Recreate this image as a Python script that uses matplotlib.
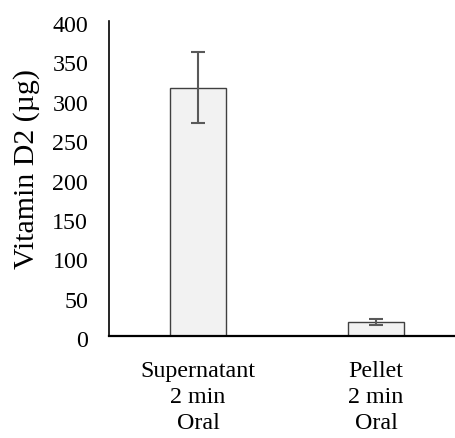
import matplotlib
matplotlib.use('Agg')

import matplotlib.pyplot as plt
import matplotlib.transforms as mtransforms


categories = ["Supernatant\n2 min\nOral", "Pellet\n2 min\nOral"]
values = [315.5, 17.8]
errors = [45.0, 3.5]
yticks = [0, 50, 100, 150, 200, 250, 300, 350, 400]

plt.rcParams['font.family'] = ['Liberation Serif', 'DejaVu Serif']

fig = plt.figure(figsize=(4.56, 4.38), dpi=100)
# axis runs a bit past the right edge, like the original
ax = fig.add_axes([109 / 456, 1 - 336 / 438, 356 / 456, 315 / 438])

x = list(range(len(categories)))
ax.bar(x, values, width=0.315, color='#f2f2f2', edgecolor='#404040', linewidth=1.0, zorder=2)
ax.errorbar(x, values, yerr=errors, fmt='none', ecolor='#595959',
            elinewidth=1.5, capsize=5, capthick=1.5, zorder=3)

ax.set_xlim(-0.5, 1.5)
ax.set_ylim(0, 400)
ax.set_yticks(yticks)
ax.set_xticks(x)
ax.set_xticklabels(categories, linespacing=1.3)

ax.tick_params(axis='y', length=0, pad=15, labelsize=17.3)
ax.tick_params(axis='x', length=0, pad=18, labelsize=17.3)

# y labels sit a little below their values in the original
shift = mtransforms.ScaledTranslation(0, -3 / 100, fig.dpi_scale_trans)
for lbl in ax.get_yticklabels():
    lbl.set_transform(lbl.get_transform() + shift)

for side in ('top', 'right'):
    ax.spines[side].set_visible(False)
ax.spines['left'].set_linewidth(1.2)
ax.spines['bottom'].set_linewidth(1.6)

ax.set_ylabel("Vitamin D2 (µg)", fontsize=21.5)
ax.yaxis.set_label_coords(-0.194, 0.53)

fig.savefig('out.png', dpi=100)
